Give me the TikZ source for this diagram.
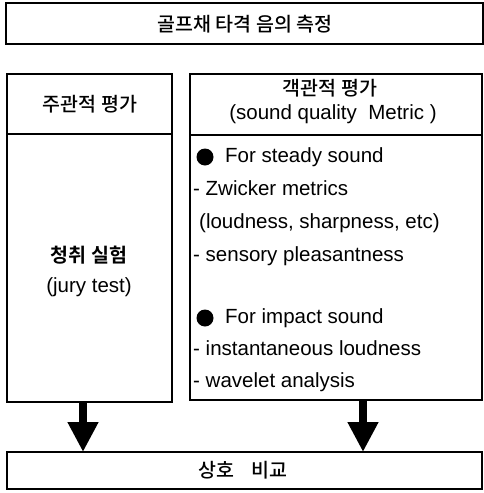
\documentclass[tikz,border=0pt]{standalone}
\usepackage{fontspec}
\setmainfont{Liberation Sans}
\newfontfamily\kr[UprightFont={Noto Sans CJK KR Medium},BoldFont={Noto Sans CJK KR Bold}]{Noto Sans CJK KR}
\usetikzlibrary{arrows.meta}
\begin{document}
\begin{tikzpicture}[x=1pt,y=-1pt,
  box/.style={draw, line width=1.7pt, inner sep=0pt, outer sep=0pt, anchor=north west},
  krtext/.style={font=\kr\fontsize{19.5}{21}\selectfont, inner sep=0pt},
  entext/.style={font=\fontsize{20.5}{22}\selectfont, inner sep=0pt, text height=14pt, text depth=4pt},
  item/.style={entext, anchor=west},
  bulletdot/.style={circle, fill, inner sep=0pt, minimum size=17pt},
  bigarrow/.style={line width=8pt, -{Triangle[width=29pt,length=30pt]}}]
\useasboundingbox (0,0) rectangle (484,493);
% boxes
\node[box, minimum width=477pt, minimum height=41pt] (top) at (6,3) {};
\node[krtext] (toptext) at (245,24) {골프채 타격 음의 측정};
\node[box, minimum width=165pt, minimum height=60pt] (lh) at (7,74) {};
\node[box, minimum width=165pt, minimum height=268pt] (lb) at (7,134) {};
\node[box, minimum width=292pt, minimum height=61pt] (rh) at (190,74) {};
\node[box, minimum width=292pt, minimum height=265pt] (rb) at (190,135) {};
\node[box, minimum width=475pt, minimum height=37pt] (bot) at (7,452) {};
% left texts
\node[krtext] (lhtext) at (90,104) {주관적 평가};
\node[krtext, font=\kr\bfseries\fontsize{19.5}{21}\selectfont] (jury) at (89,255) {청취 실험};
\node[entext] (juryen) at (89,287) {(jury test)};
% right header
\node[krtext] (rhtext) at (330,88) {객관적 평가};
\node[entext] (rhen) at (333,114) {(sound quality\ \ Metric )};
% right body
\node[bulletdot] (b1) at (205,157) {};
\node[item] (l1) at (225,157) {For steady sound};
\node[item] (l2) at (193,190) {- Zwicker metrics};
\node[item] (l3) at (199,223) {(loudness, sharpness, etc)};
\node[item] (l4) at (193,256) {- sensory pleasantness};
\node[bulletdot] (b2) at (205,318) {};
\node[item] (l5) at (225,318) {For impact sound};
\node[item] (l6) at (193,350) {- instantaneous loudness};
\node[item] (l7) at (193,382) {- wavelet analysis};
% bottom
\node[krtext] (bottext) at (243,470) {상호\hspace{0.9em}비교};
% arrows
\coordinate (la) at (83,0);
\coordinate (ra) at (363,0);
\draw[bigarrow] (la |- lb.south) -- (la |- bot.north);
\draw[bigarrow] (ra |- rb.south) -- (ra |- bot.north);
\end{tikzpicture}
\end{document}
